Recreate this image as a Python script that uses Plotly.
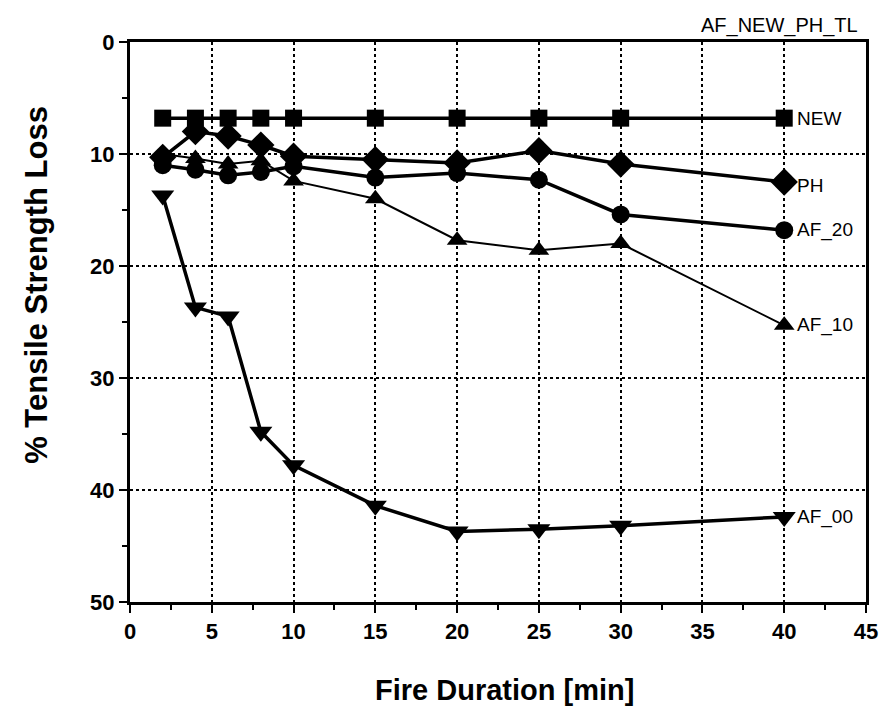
import plotly.graph_objects as go

duration = [2, 4, 6, 8, 10, 15, 20, 25, 30, 40]
new_loss = [6.8, 6.8, 6.8, 6.8, 6.8, 6.8, 6.8, 6.8, 6.8, 6.8]
ph_loss = [10.3, 8.0, 8.4, 9.2, 10.2, 10.5, 10.8, 9.7, 10.9, 12.5]
af20_loss = [11.0, 11.4, 11.9, 11.6, 11.1, 12.1, 11.7, 12.3, 15.4, 16.8]
af10_loss = [10.0, 10.4, 10.9, 10.6, 12.4, 14.0, 17.7, 18.6, 18.0, 25.3]
af00_loss = [13.7, 23.7, 24.5, 34.8, 37.8, 41.4, 43.7, 43.5, 43.2, 42.4]

series = [
    ("NEW", new_loss, "square", 3.5, 17),
    ("PH", ph_loss, "diamond", 3.5, 21),
    ("AF_20", af20_loss, "circle", 3.5, 18),
    ("AF_10", af10_loss, "triangle-up", 2, 18),
    ("AF_00", af00_loss, "triangle-down", 3.5, 20),
]

font_fam = "Liberation Sans, Arial, sans-serif"

fig = go.Figure()
for name, ys, sym, lw, ms in series:
    fig.add_trace(go.Scatter(
        x=duration, y=ys, mode="lines+markers", name=name,
        line=dict(color="black", width=lw),
        marker=dict(symbol=sym, size=ms, color="black"),
        showlegend=False,
    ))

label_offsets = {"NEW": 0, "PH": 0.3, "AF_20": 0, "AF_10": 0, "AF_00": 0}
for name, ys, sym, lw, ms in series:
    fig.add_annotation(
        x=duration[-1], y=ys[-1] + label_offsets[name], text=name, showarrow=False,
        xanchor="left", yanchor="middle", xshift=11,
        font=dict(family=font_fam, size=19, color="black"),
    )

fig.add_annotation(
    x=1.0, y=1.0, xref="paper", yref="paper", text="AF_NEW_PH_TL",
    showarrow=False, xanchor="right", yanchor="bottom", yshift=3, xshift=-6,
    font=dict(family=font_fam, size=20, color="black"),
)

# axis titles as annotations for precise placement
fig.add_annotation(
    x=-0.128, y=0.566, xref="paper", yref="paper", text="<b>% Tensile Strength Loss</b>",
    showarrow=False, textangle=-90, xanchor="center", yanchor="middle",
    font=dict(family=font_fam, size=31, color="black"),
)
fig.add_annotation(
    x=0.509, y=-0.157, xref="paper", yref="paper", text="<b>Fire Duration [min]</b>",
    showarrow=False, xanchor="center", yanchor="middle",
    font=dict(family=font_fam, size=29, color="black"),
)

fig.update_xaxes(
    range=[0, 45], tickmode="linear", tick0=0, dtick=5,
    showline=True, linewidth=3, linecolor="black", mirror=True,
    ticks="outside", ticklen=8, tickwidth=2, tickcolor="black",
    minor=dict(dtick=2.5, ticks="outside", ticklen=5, tickwidth=1.5, tickcolor="black", showgrid=False),
    showgrid=True, gridcolor="black", griddash="dot", gridwidth=1.5,
    zeroline=False,
    tickfont=dict(family=font_fam, size=22, color="black"),
    tickprefix="<b>", ticksuffix="</b>",
)
fig.update_yaxes(
    range=[50, 0], tickmode="linear", tick0=0, dtick=10,
    showline=True, linewidth=3, linecolor="black", mirror=True,
    ticks="outside", ticklen=8, tickwidth=2, tickcolor="black",
    minor=dict(dtick=5, ticks="outside", ticklen=5, tickwidth=1.5, tickcolor="black", showgrid=False),
    showgrid=True, gridcolor="black", griddash="dot", gridwidth=1.5,
    zeroline=False,
    tickfont=dict(family=font_fam, size=22, color="black"),
    tickprefix="<b>", ticksuffix="</b>",
)

fig.update_layout(
    width=890, height=721,
    margin=dict(l=130, r=20, t=42, b=119),
    paper_bgcolor="white", plot_bgcolor="white",
)

fig.write_html("out.html")
